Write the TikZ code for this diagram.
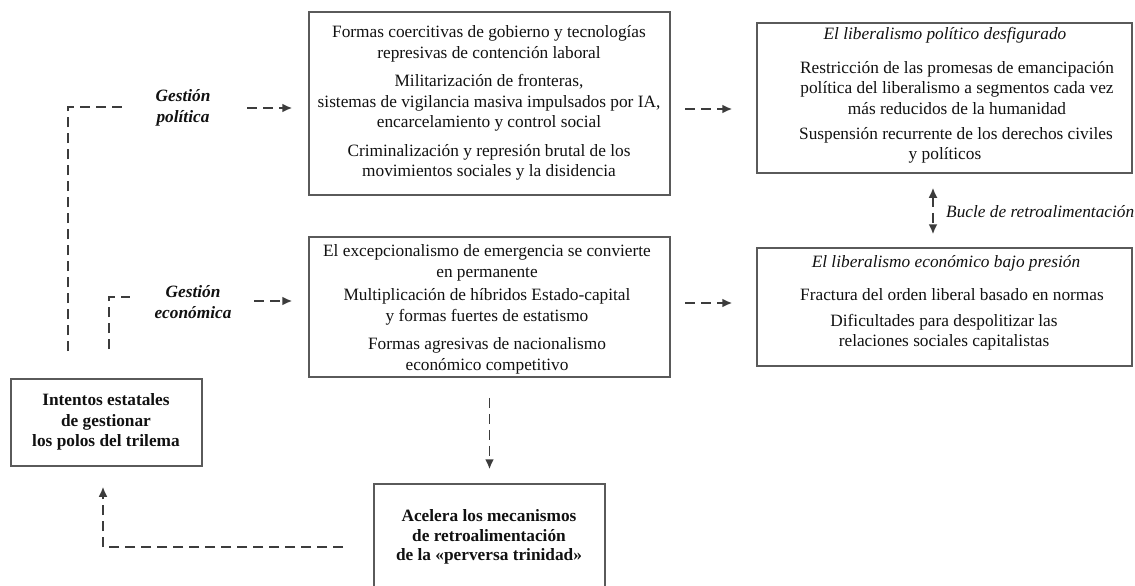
\documentclass[tikz,border=0pt]{standalone}
\usepackage{fontspec}
\setmainfont{Liberation Serif}
\usetikzlibrary{arrows.meta}
\definecolor{boxgray}{HTML}{5A5A5A}
\definecolor{linegray}{HTML}{3C3C3C}
\definecolor{txtblack}{HTML}{111111}
\newcommand{\fsz}{\fontsize{17.3}{20.5}\selectfont}
\begin{document}
\begin{tikzpicture}[x=1pt,y=-1pt,
  frame/.style={draw=boxgray, line width=1.5pt, inner sep=0pt},
  txt/.style={align=center, inner sep=0pt, text=txtblack, font=\fsz},
  itxt/.style={align=center, inner sep=0pt, text=txtblack, font=\fsz\itshape},
  btxt/.style={align=center, inner sep=0pt, text=txtblack, font=\fsz\bfseries},
  lbl/.style={align=center, inner sep=0pt, text=txtblack, font=\fontsize{17.3}{21}\selectfont\bfseries\itshape},
  conn/.style={draw=linegray, line width=1.9pt, dash pattern=on 10pt off 6pt},
  arr/.style={conn, -{Latex[length=10pt,width=9pt]}},
  darr/.style={conn, {Latex[length=10pt,width=9pt]}-{Latex[length=10pt,width=9pt]}}
]
\useasboundingbox (0,0) rectangle (1135,586);
\fill[white] (0,0) rectangle (1135,586);

% boxes
\node[frame, minimum width=361pt, minimum height=183pt] (pol) at (489.5,103.5) {};
\node[frame, minimum width=361pt, minimum height=140pt] (eco) at (489.5,307) {};
\node[frame, minimum width=375pt, minimum height=150pt] (lpd) at (944.5,98) {};
\node[frame, minimum width=375pt, minimum height=118pt] (leb) at (944.5,307) {};
\node[frame, minimum width=191pt, minimum height=87pt] (int) at (106.5,422.5) {};
\node[frame, minimum width=231pt, minimum height=108pt] (acc) at (489.5,538) {};

% texts
\node[txt] (polt) at (489,103) {Formas coercitivas de gobierno y tecnologías\\ represivas de contención laboral\\[8pt]
Militarización de fronteras,\\ sistemas de vigilancia masiva impulsados por IA,\\ encarcelamiento y control social\\[8pt]
Criminalización y represión brutal de los\\ movimientos sociales y la disidencia};
\node[txt] (ecot) at (487,309.5) {El excepcionalismo de emergencia se convierte\\ en permanente\\[3pt]
Multiplicación de híbridos Estado-capital\\ y formas fuertes de estatismo\\[8pt]
Formas agresivas de nacionalismo\\ económico competitivo};
\node[itxt] (lpdh) at (945,35) {El liberalismo político desfigurado};
\node[txt] (lpdb) at (957,88) {Restricción de las promesas de emancipación\\ política del liberalismo a segmentos cada vez\\ más reducidos de la humanidad};
\node[txt] (lpdc) at (956,135) {Suspensión recurrente de los derechos civiles};
\node[txt] (lpdd) at (945,155) {y políticos};
\node[itxt] (lebh) at (946,263) {El liberalismo económico bajo presión};
\node[txt] (lebb) at (952,295) {Fractura del orden liberal basado en normas};
\node[txt] (lebc) at (944,332) {Dificultades para despolitizar las\\ relaciones sociales capitalistas};
\node[btxt] (intt) at (106,422) {Intentos estatales\\ de gestionar\\ los polos del trilema};
\node[btxt, font=\fontsize{17.3}{19.5}\selectfont\bfseries] (acct) at (489,537) {Acelera los mecanismos\\ de retroalimentación\\ de la «perversa trinidad»};

% labels
\node[lbl] (gp) at (183,107.5) {Gestión\\ política};
\node[lbl] (ge) at (193,302.5) {Gestión\\ económica};
\node[itxt, anchor=west] (bucle) at (946,212) {Bucle de retroalimentación};

% free ends
\coordinate (gpstart) at (68,351);
\coordinate (gpend) at (123,107);
\coordinate (gestart) at (109,349);
\coordinate (geend) at (130,297);
\coordinate (gpa) at (247,108);
\coordinate (gea) at (254,301);
\coordinate (pola) at (685,109);
\coordinate (ecoa) at (685,303);
\coordinate (fbstart) at (343,547);

% connectors
\draw[conn] (gpstart) |- (gpend);
\draw[conn] (gestart) |- (geend);
\draw[arr, shorten >=16pt] (gpa) -- (gpa -| pol.west);
\draw[arr, shorten >=16pt] (gea) -- (gea -| eco.west);
\draw[arr, shorten >=24pt] (pola) -- (pola -| lpd.west);
\draw[arr, shorten >=24pt] (ecoa) -- (ecoa -| leb.west);
\draw[darr, shorten <=14pt, shorten >=13pt] (lpd.south -| 933,0) -- (leb.north -| 933,0);
\draw[arr, shorten <=20pt, shorten >=14pt] (eco.south) -- (acc.north);
\draw[arr, shorten >=20pt] (fbstart) -| (int.south -| 103,0);
\end{tikzpicture}
\end{document}
